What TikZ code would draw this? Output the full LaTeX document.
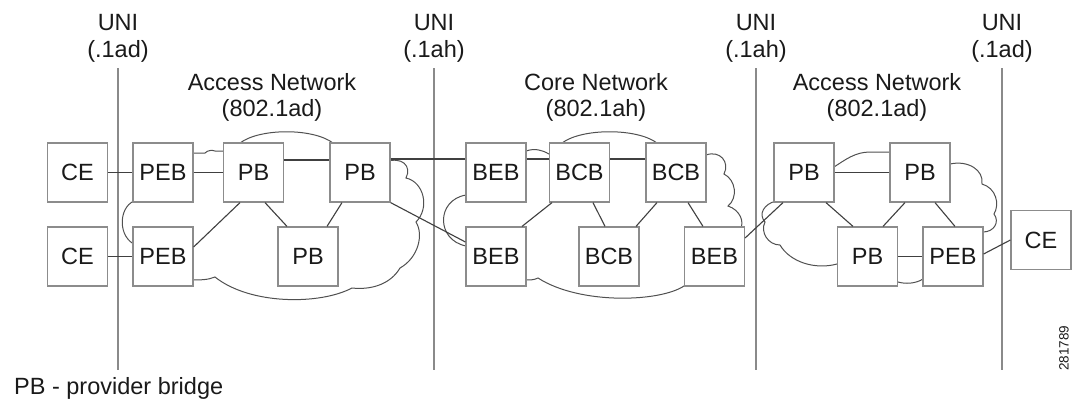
\documentclass[tikz,border=0pt]{standalone}
\usepackage{fontspec}
\setmainfont{Liberation Sans}
\begin{document}
\begin{tikzpicture}[x=1pt,y=-1pt,
  box/.style={draw=boxgray,fill=white,line width=1.2pt,minimum width=60pt,minimum height=59pt,inner sep=0pt,font=\fontsize{23.5}{27}\selectfont,text=txt},
  lbl/.style={font=\fontsize{23.5}{27}\selectfont,text=txt,anchor=base,inner sep=0pt},
  link/.style={draw=linkgray,line width=1.1pt},
  cloud/.style={draw=cloudgray,line width=1pt},
  uni/.style={draw=unigray,line width=1.4pt}]
\definecolor{boxgray}{HTML}{8C8C8C}
\definecolor{linkgray}{HTML}{404040}
\definecolor{cloudgray}{HTML}{505050}
\definecolor{unigray}{HTML}{8A8A8A}
\definecolor{txt}{HTML}{1A1A1A}
\useasboundingbox (0,0) rectangle (1072,400);
\fill[white] (0,0) rectangle (1072,400);
% UNI lines
\coordinate (u1t) at (118,68); \coordinate (u1b) at (118,370);
\coordinate (u2t) at (434,68); \coordinate (u2b) at (434,370);
\coordinate (u3t) at (756,68); \coordinate (u3b) at (756,370);
\coordinate (u4t) at (1002,68); \coordinate (u4b) at (1002,370);
\draw[uni] (u1t) -- (u1b);
\draw[uni] (u2t) -- (u2b);
\draw[uni] (u3t) -- (u3b);
\draw[uni] (u4t) -- (u4b);
% labels
\node[lbl] (l1a) at (118,30) {UNI};
\node[lbl] (l1b) at (118,57) {(.1ad)};
\node[lbl] (l2a) at (434,30) {UNI};
\node[lbl] (l2b) at (434,57) {(.1ah)};
\node[lbl] (l3a) at (756,30) {UNI};
\node[lbl] (l3b) at (756,57) {(.1ah)};
\node[lbl] (l4a) at (1002,30) {UNI};
\node[lbl] (l4b) at (1002,57) {(.1ad)};
\node[lbl] (n1a) at (272,90) {Access Network};
\node[lbl] (n1b) at (272,116) {(802.1ad)};
\node[lbl] (n2a) at (596,90) {Core Network};
\node[lbl] (n2b) at (596,116) {(802.1ah)};
\node[lbl] (n3a) at (877,90) {Access Network};
\node[lbl] (n3b) at (877,116) {(802.1ad)};
% clouds
\draw[cloud] (190,153) -- (205,153) .. controls (208,150) and (212,150) .. (215,151) -- (230,151) -- (240,143)
  .. controls (260,128) and (313,128) .. (333,143) -- (385,162)
  .. controls (402,156) and (412,166) .. (406,178)
  .. controls (424,182) and (430,208) .. (416,222)
  .. controls (424,235) and (418,258) .. (400,268)
  .. controls (390,285) and (370,290) .. (352,288)
  .. controls (320,305) and (250,305) .. (215,277)
  .. controls (208,280) and (200,280) .. (190,280) -- (136,245)
  .. controls (118,238) and (118,208) .. (134,201) -- cycle;
\draw[cloud] (520,151) -- (526,151) .. controls (535,148) and (542,150) .. (549,154) -- (562,143)
  .. controls (582,128) and (637,128) .. (657,143) -- (706,155)
  .. controls (720,150) and (730,162) .. (724,174)
  .. controls (736,180) and (738,198) .. (728,206)
  .. controls (740,210) and (745,222) .. (740,230) -- (684,286)
  .. controls (660,302) and (580,305) .. (538,278)
  .. controls (534,280) and (530,280) .. (526,280) -- (466,246)
  .. controls (436,240) and (436,200) .. (466,195) -- cycle;
\draw[cloud] (830,167) -- (834,167) .. controls (845,160) and (855,152) .. (870,152) -- (890,152) -- (950,164)
  .. controls (968,160) and (984,170) .. (982,184)
  .. controls (996,188) and (1000,204) .. (994,214)
  .. controls (1000,222) and (994,232) .. (983,232) -- (923,279)
  .. controls (915,284) and (905,284) .. (898,282) -- (837,264)
  .. controls (815,270) and (790,262) .. (780,245)
  .. controls (768,245) and (760,232) .. (765,222)
  .. controls (758,214) and (764,204) .. (776,201) -- cycle;
% boxes
\node[box] (CE1) at (77.5,172.5) {CE};
\node[box] (PEB1) at (163,172.5) {PEB};
\node[box] (PB1) at (253.5,172.5) {PB};
\node[box] (PB2) at (360,172.5) {PB};
\node[box] (CE2) at (77.5,256.5) {CE};
\node[box] (PEB2) at (163,256.5) {PEB};
\node[box] (PB3) at (308,256.5) {PB};
\node[box] (BEB1) at (496,172.5) {BEB};
\node[box] (BCB1) at (579.5,172.5) {BCB};
\node[box] (BCB2) at (676,172.5) {BCB};
\node[box] (BEB2) at (496,256.5) {BEB};
\node[box] (BCB3) at (609,256.5) {BCB};
\node[box] (BEB3) at (714.5,256.5) {BEB};
\node[box] (PB4) at (804,172.5) {PB};
\node[box] (PB6) at (920,172.5) {PB};
\node[box] (PB5) at (867.5,256.5) {PB};
\node[box] (PEB3) at (953,256.5) {PEB};
\node[box] (CE3) at (1041,240) {CE};
% links
\draw[link] (CE1.east) -- (PEB1.west);
\draw[link] (CE2.east) -- (PEB2.west);
\draw[link] (PEB1.east) -- (PB1.west);
\draw[link] ([yshift=12.5pt]PB1.east) -- ([yshift=12.5pt]PB2.west);
\draw[link] ([yshift=13.5pt]PB2.east) -- ([yshift=13.5pt]BEB1.west);
\draw[link] ([xshift=-13.5pt]PB1.south) -- ([yshift=9.5pt]PEB2.east);
\draw[link] ([xshift=11.5pt]PB1.south) -- ([xshift=-21pt]PB3.north);
\draw[link] ([xshift=-18pt]PB2.south) -- ([xshift=19pt]PB3.north);
\draw[link] (PB2.south east) -- ([yshift=14.5pt]BEB2.west);
\draw[link] ([yshift=13.5pt]BEB1.east) -- ([yshift=13.5pt]BCB1.west);
\draw[link] ([yshift=13.5pt]BCB1.east) -- ([yshift=13.5pt]BCB2.west);
\draw[link] ([xshift=-27.5pt]BCB1.south) -- ([xshift=26pt]BEB2.north);
\draw[link] ([xshift=13.5pt]BCB1.south) -- ([xshift=-4pt]BCB3.north);
\draw[link] ([xshift=-19pt]BCB2.south) -- ([xshift=27pt]BCB3.north);
\draw[link] ([xshift=12pt]BCB2.south) -- ([xshift=-11.5pt]BEB3.north);
\draw[link] ([yshift=18.5pt]BEB3.east) -- ([xshift=-21pt]PB4.south);
\draw[link] (PB4.east) -- (PB6.west);
\draw[link] ([xshift=22pt]PB4.south) -- ([xshift=-14.5pt]PB5.north);
\draw[link] ([xshift=-15pt]PB6.south) -- ([xshift=15.5pt]PB5.north);
\draw[link] ([xshift=15pt]PB6.south) -- ([xshift=2pt]PEB3.north);
\draw[link] (PB5.east) -- (PEB3.west);
\draw[link] ([yshift=2.5pt]PEB3.east) -- (CE3.west);
% legend and id
\node[lbl,anchor=base west] (legend) at (14,394) {PB - provider bridge};
\node[font=\fontsize{13.5}{15}\selectfont,text=txt,rotate=90,inner sep=0pt] (fig) at (1064,348) {281789};
\end{tikzpicture}
\end{document}
